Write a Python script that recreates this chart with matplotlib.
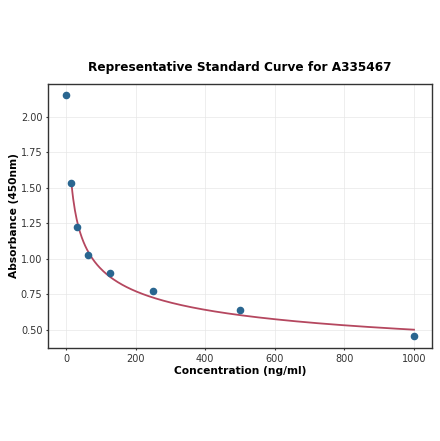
import numpy as np
import matplotlib
matplotlib.use("Agg")
import matplotlib.pyplot as plt

conc = [0, 15.6, 31.25, 62.5, 125, 250, 500, 1000]
absorb = [2.155, 1.535, 1.225, 1.028, 0.90, 0.775, 0.641, 0.458]

x = np.array(conc[1:])
y = np.array(absorb[1:])
b, a = np.polyfit(np.log(x), np.log(y), 1)
xf = np.linspace(x.min(), x.max(), 400)
yf = np.exp(a) * xf ** b

fig = plt.figure(figsize=(4.4, 4.41), dpi=100)
ax = fig.add_axes([0.109, 0.211, 0.873, 0.599])
ax.plot(xf, yf, color="#b5475f", lw=1.3, zorder=2)
ax.scatter(conc, absorb, s=20, color="#2a6690", zorder=3)
ax.set_xlim(-52, 1052)
ax.set_ylim(0.373, 2.232)
ax.set_yticks([0.5, 0.75, 1.0, 1.25, 1.5, 1.75, 2.0])
ax.set_xticks([0, 200, 400, 600, 800, 1000])
ax.grid(True, color="#e6e6e6", lw=0.6, alpha=0.8)
ax.set_axisbelow(True)
for s in ax.spines.values():
    s.set_color("#333333")
    s.set_linewidth(1.0)
ax.tick_params(labelsize=7, colors="#333333", length=1.5, pad=2.5)
ax.set_xlabel("Concentration (ng/ml)", fontsize=7.7, fontweight="bold", labelpad=2)
ax.set_ylabel("Absorbance (450nm)", fontsize=7.7, fontweight="bold", labelpad=1.5)
ax.set_title("Representative Standard Curve for A335467", fontsize=8.7, fontweight="bold", pad=9)
fig.savefig("out.png", dpi=100)
